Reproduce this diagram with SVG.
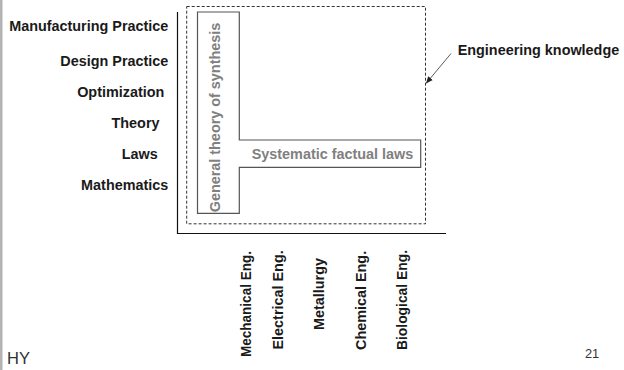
<svg xmlns="http://www.w3.org/2000/svg" width="624" height="370" viewBox="0 0 624 370">
<style>
.lbl{font-family:"Liberation Sans",Arial,sans-serif;font-weight:bold;font-size:14.4px;fill:#1a1a1a}
.gry{font-family:"Liberation Sans",Arial,sans-serif;font-weight:bold;font-size:14.4px;fill:#808080}
.ft{font-family:"Liberation Sans",Arial,sans-serif;fill:#333}
.axis{fill:none;stroke:#111;stroke-width:1.2}
.dash{fill:none;stroke:#333;stroke-width:1;stroke-dasharray:3,2}
.tshape{fill:none;stroke:#555;stroke-width:1.2}
</style>
<defs>
<marker id="ah" markerWidth="8" markerHeight="8" refX="7" refY="4" orient="auto" markerUnits="userSpaceOnUse">
<path d="M0,1 L7,4 L0,7 z" fill="#222"/>
</marker>
</defs>
<rect x="0" y="0" width="624" height="370" fill="#fff"/>
<rect x="0" y="0" width="2.5" height="370" fill="#b3b3b3"/>

<g id="axes">
<path class="axis" d="M177.5,12 V233.5 H446"/>
</g>

<g id="row-labels">
<text class="lbl" x="168.3" y="30.7" text-anchor="end">Manufacturing Practice</text>
<text class="lbl" x="168.3" y="66" text-anchor="end">Design Practice</text>
<text class="lbl" x="164.3" y="97" text-anchor="end">Optimization</text>
<text class="lbl" x="159.5" y="128.3" text-anchor="end">Theory</text>
<text class="lbl" x="157.7" y="159.3" text-anchor="end">Laws</text>
<text class="lbl" x="168.3" y="190" text-anchor="end">Mathematics</text>
</g>

<g id="column-labels">
<text class="lbl" transform="translate(250.7,357) rotate(-90)" textLength="106" lengthAdjust="spacingAndGlyphs">Mechanical Eng.</text>
<text class="lbl" transform="translate(282.7,349.5) rotate(-90)">Electrical Eng.</text>
<text class="lbl" transform="translate(324.3,330) rotate(-90)">Metallurgy</text>
<text class="lbl" transform="translate(365.7,350) rotate(-90)">Chemical Eng.</text>
<text class="lbl" transform="translate(406.7,350) rotate(-90)" textLength="100" lengthAdjust="spacingAndGlyphs">Biological Eng.</text>
</g>

<g id="engineering-knowledge">
<rect class="dash" x="186.7" y="6.5" width="238.8" height="217.3"/>
<text class="lbl" x="457.7" y="55">Engineering knowledge</text>
</g>

<g id="connectors">
<line x1="451" y1="53.5" x2="426" y2="83.5" stroke="#333" stroke-width="0.8" marker-end="url(#ah)"/>
</g>

<g id="general-theory">
<path class="tshape" d="M197.5,12 H239.3 V140 H420.7 V167.3 H239.3 V213.3 H197.5 Z"/>
<text class="gry" transform="translate(220,212.3) rotate(-90)">General theory of synthesis</text>
</g>

<g id="systematic-laws">
<text class="gry" x="251.7" y="159">Systematic factual laws</text>
</g>

<g id="footer">
<text class="ft" x="7" y="364.3" font-size="16.5">HY</text>
<text class="ft" x="585" y="358.3" font-size="12.8">21</text>
</g>
</svg>
